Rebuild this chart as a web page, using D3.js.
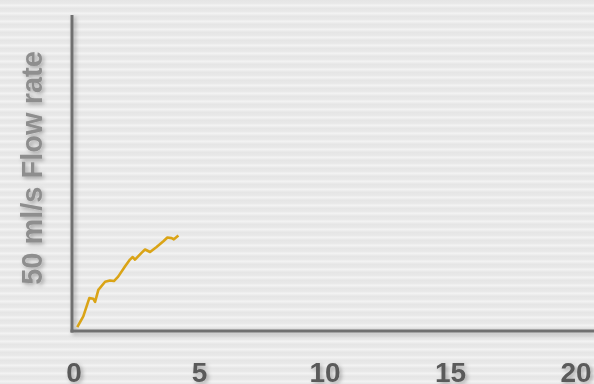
<!DOCTYPE html>
<html>
<head>
<meta charset="utf-8">
<script src="https://cdn.jsdelivr.net/npm/d3@7"></script>
<style>
  html, body { margin: 0; padding: 0; overflow: hidden; background: #ececec; }
  #chart { width: 594px; height: 384px; }
</style>
</head>
<body>
<div id="chart"></div>
<script>
// flow curve (seconds, ml/s)
const timeValues = [0.13, 0.37, 0.61, 0.77, 0.84, 0.97, 1.24, 1.43, 1.59, 1.76, 2.03, 2.23, 2.34, 2.43, 2.70, 2.83, 3.03, 3.29, 3.56, 3.72, 3.89, 3.98, 4.16];
const flowValues = [0.6, 2.3, 5.2, 5.1, 4.6, 6.5, 7.8, 8.0, 7.9, 8.6, 10.2, 11.3, 11.7, 11.3, 12.4, 12.9, 12.5, 13.3, 14.2, 14.8, 14.7, 14.5, 15.1];
const xTicks = [0, 5, 10, 15, 20];
const yLabel = "50 ml/s Flow rate";

const width = 594, height = 384;
const svg = d3.select("#chart").append("svg")
    .attr("width", width)
    .attr("height", height);

const defs = svg.append("defs");

// striped background
const stripe = defs.append("linearGradient")
    .attr("id", "stripe-grad")
    .attr("x1", 0).attr("y1", 0).attr("x2", 0).attr("y2", 1);
stripe.append("stop").attr("offset", "0%").attr("stop-color", "#e5e5e5");
stripe.append("stop").attr("offset", "45%").attr("stop-color", "#e9e9e9");
stripe.append("stop").attr("offset", "65%").attr("stop-color", "#f3f3f3");
stripe.append("stop").attr("offset", "100%").attr("stop-color", "#e7e7e7");

defs.append("pattern")
    .attr("id", "stripes")
    .attr("patternUnits", "userSpaceOnUse")
    .attr("width", 8).attr("height", 8)
    .append("rect")
    .attr("width", 8).attr("height", 8)
    .attr("fill", "url(#stripe-grad)");

// blur + drop shadow, in user space so thin lines keep a region
const shadow = defs.append("filter")
    .attr("id", "shadow")
    .attr("filterUnits", "userSpaceOnUse")
    .attr("x", 0).attr("y", 0)
    .attr("width", width).attr("height", height);
shadow.append("feGaussianBlur").attr("in", "SourceGraphic").attr("stdDeviation", 0.7).attr("result", "soft");
shadow.append("feDropShadow").attr("in", "soft").attr("dx", 2).attr("dy", 2)
    .attr("stdDeviation", 2).attr("flood-color", "#000").attr("flood-opacity", 0.3);

const soft = defs.append("filter")
    .attr("id", "soft")
    .attr("filterUnits", "userSpaceOnUse")
    .attr("x", 0).attr("y", 0)
    .attr("width", width).attr("height", height);
soft.append("feGaussianBlur").attr("stdDeviation", 0.5);

svg.append("rect")
    .attr("width", width).attr("height", height)
    .attr("fill", "url(#stripes)");

const x = d3.scaleLinear()
    .domain([0, 20])
    .range([74, 576]);

const y = d3.scaleLinear()
    .domain([0, 50])
    .range([331, 15]);

// axes lines
const axisColor = "#707070";
const axes = svg.append("g").attr("filter", "url(#shadow)");
axes.append("line")
    .attr("x1", x(0) - 2).attr("x2", x(0) - 2)
    .attr("y1", y(50)).attr("y2", y(0) + 1.5)
    .attr("stroke", axisColor).attr("stroke-width", 3);
axes.append("line")
    .attr("x1", x(0) - 3.5).attr("x2", width + 10)
    .attr("y1", y(0)).attr("y2", y(0))
    .attr("stroke", axisColor).attr("stroke-width", 3);

// x tick labels
svg.append("g")
    .attr("filter", "url(#shadow)")
    .selectAll("text")
    .data(xTicks)
    .join("text")
    .attr("x", d => x(d))
    .attr("y", 382)
    .attr("text-anchor", "middle")
    .attr("font-family", "Liberation Sans, Arial, sans-serif")
    .attr("font-weight", "bold")
    .attr("font-size", 28)
    .attr("fill", "#5a5a5a")
    .text(d => d);

// y label (filter on the group so its region stays unrotated)
svg.append("g")
    .attr("filter", "url(#shadow)")
    .append("text")
    .attr("transform", `translate(42,168) rotate(-90)`)
    .attr("text-anchor", "middle")
    .attr("font-family", "Liberation Sans, Arial, sans-serif")
    .attr("font-weight", "bold")
    .attr("font-size", 29)
    .attr("fill", "#8e8e8e")
    .text(yLabel);

// flow line
const data = timeValues.map((t, i) => ({ t: t, v: flowValues[i] }));
const line = d3.line()
    .x(d => x(d.t))
    .y(d => y(d.v));

svg.append("path")
    .datum(data)
    .attr("fill", "none")
    .attr("stroke", "#daa418")
    .attr("stroke-width", 2.6)
    .attr("stroke-linejoin", "round")
    .attr("filter", "url(#soft)")
    .attr("d", line);
</script>
</body>
</html>
